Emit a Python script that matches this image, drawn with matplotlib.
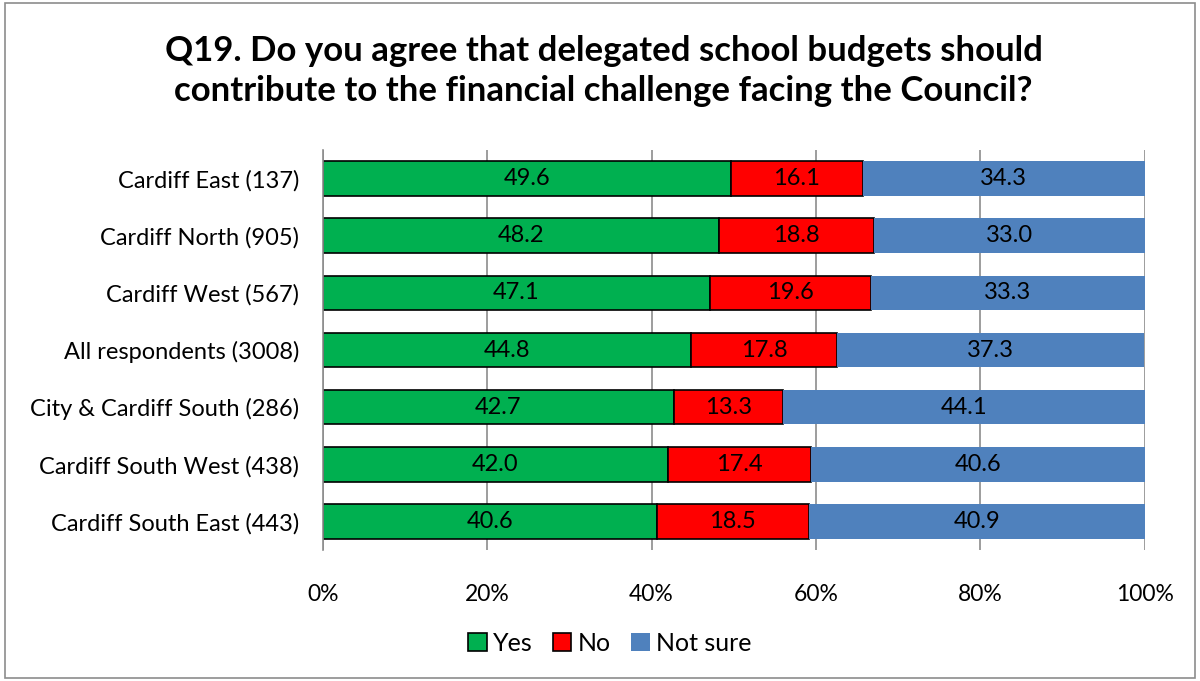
import matplotlib
matplotlib.use('Agg')
import matplotlib.pyplot as plt
from matplotlib.patches import Rectangle
import numpy as np

plt.rcParams['font.family'] = ['Lato', 'DejaVu Sans']

areas = ['Cardiff East (137)', 'Cardiff North (905)', 'Cardiff West (567)',
         'All respondents (3008)', 'City & Cardiff South (286)',
         'Cardiff South West (438)', 'Cardiff South East (443)']
yes = [49.6, 48.2, 47.1, 44.8, 42.7, 42.0, 40.6]
no = [16.1, 18.8, 19.6, 17.8, 13.3, 17.4, 18.5]
not_sure = [34.3, 33.0, 33.3, 37.3, 44.1, 40.6, 40.9]
ticks = [0, 20, 40, 60, 80, 100]

fig = plt.figure(figsize=(12, 6.81), dpi=100)
ax = fig.add_axes([0.269, 0.192, 0.685, 0.588])

y = np.arange(len(areas))[::-1]
h = 0.6
b1 = ax.barh(y, yes, height=h, color='#00b050', edgecolor='black', linewidth=1.2, label='Yes')
b2 = ax.barh(y, no, left=yes, height=h, color='#ff0000', edgecolor='black', linewidth=1.2, label='No')
left3 = np.array(yes) + np.array(no)
b3 = ax.barh(y, not_sure, left=left3, height=h, color='#4f81bd', linewidth=0, label='Not sure')

for bars, vals in [(b1, yes), (b2, no), (b3, not_sure)]:
    ax.bar_label(bars, labels=[f'{v:.1f}' for v in vals], label_type='center', fontsize=17, color='black')

ax.set_xlim(0, 100)
ax.set_ylim(-0.5, len(areas) - 0.5)
ax.set_xticks(ticks)
ax.set_xticklabels([f'{t}%' for t in ticks], fontsize=16.5)
ax.set_yticks(y)
ax.set_yticklabels(areas, fontsize=17)
ax.tick_params(axis='x', length=0, pad=24)
ax.tick_params(axis='y', length=0, pad=17)
ax.xaxis.grid(True, color='#8c8c8c', linewidth=1.2)
ax.set_axisbelow(True)
for s in ['top', 'right', 'bottom']:
    ax.spines[s].set_visible(False)
ax.spines['left'].set_color('#8c8c8c')
ax.spines['left'].set_linewidth(1.2)

fig.text(0.503, 0.896, 'Q19. Do you agree that delegated school budgets should\ncontribute to the financial challenge facing the Council?',
         ha='center', va='center', fontsize=25, fontweight='bold', linespacing=1.3)

fig.legend(handles=[b1, b2, b3], loc='center', bbox_to_anchor=(0.508, 0.055), ncol=3,
           frameon=False, fontsize=18, handlelength=0.75, handleheight=0.75,
           handletextpad=0.25, columnspacing=0.8)

fig.patches.append(Rectangle((0.004, 0.004), 0.992, 0.992, transform=fig.transFigure,
                             fill=False, edgecolor='#8c8c8c', linewidth=1.2))

fig.savefig('out.png', dpi=100)
